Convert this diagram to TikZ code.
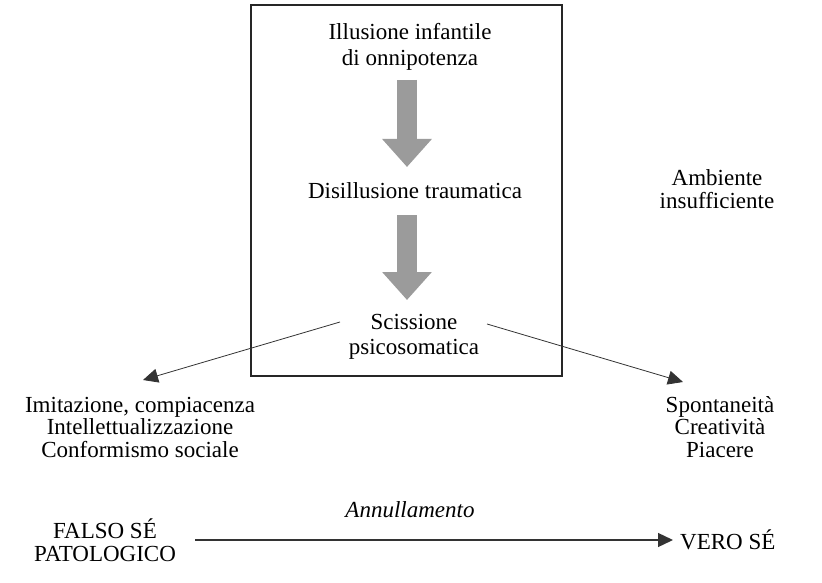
\documentclass[tikz,border=0pt]{standalone}
\usepackage{fontspec}
\setmainfont{Liberation Serif}
\usetikzlibrary{arrows.meta}
\definecolor{arrgray}{RGB}{155,155,155}
\tikzset{
  txt/.style={align=center, inner sep=0pt, font=\fontsize{23}{22.5}\selectfont},
  conn/.style={draw=black!80, line width=0.8pt, -{Triangle[length=15pt,width=14pt]}},
  bigarrow/.style={draw=arrgray, line width=20pt, -{Triangle[length=28pt,width=48pt]}, shorten >=0pt}
}
\begin{document}
\begin{tikzpicture}[x=1pt,y=-1pt]
\useasboundingbox (0,0) rectangle (822,583);
\node[draw=black!85, line width=1.3pt, minimum width=311pt, minimum height=371pt, inner sep=0pt] (box) at (406.5,190.5) {};
\node[txt] (ill) at (410,47) {Illusione infantile\\[3pt]di onnipotenza};
\node[txt] (dis) at (415,191) {Disillusione traumatica};
\node[txt] (sci) at (414,337) {Scissione\\[3pt]psicosomatica};
\node[txt] (amb) at (717,189) {Ambiente\\insufficiente};
\node[txt] (imi) at (140,427) {Imitazione, compiacenza\\Intellettualizzazione\\Conformismo sociale};
\node[txt] (spo) at (720,427) {Spontaneità\\Creatività\\Piacere};
\node[txt] (fal) at (105,540) {FALSO SÉ\\PATOLOGICO};
\node[txt, anchor=west] (ver) at (680,540) {VERO SÉ};
\node[txt, font=\fontsize{23}{22.5}\selectfont\itshape] (ann) at (410,510) {Annullamento};
\coordinate (a1s) at (407,80);
\coordinate (a1e) at (407,167);
\coordinate (a2s) at (407,215);
\coordinate (a2e) at (407,300);
\draw[bigarrow] (a1s) -- (a1e);
\draw[bigarrow] (a2s) -- (a2e);
\coordinate (ls) at (340,322);
\coordinate (rs) at (487,324);
\coordinate (lt) at (143,380);
\coordinate (rt) at (683,382);
\coordinate (bs) at (195,540);
\draw[conn] (ls) -- (lt);
\draw[conn] (rs) -- (rt);
\draw[conn, line width=1.3pt, shorten >=7pt] (bs) -- (ver.west);
\end{tikzpicture}
\end{document}
